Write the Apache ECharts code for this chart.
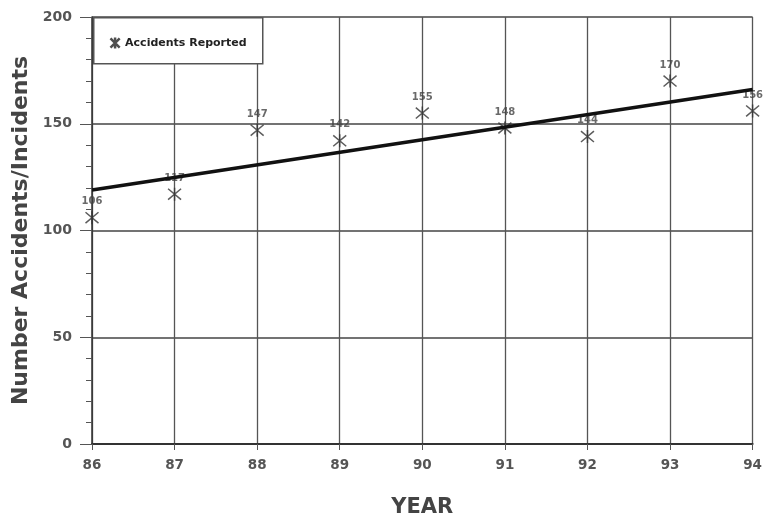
<!DOCTYPE html>
<html><head><meta charset="utf-8">
<script src="https://cdn.jsdelivr.net/npm/echarts@6/dist/echarts.min.js"></script>
<style>html,body{margin:0;padding:0;background:#fff}#c{width:765px;height:523px}</style>
</head><body><div id="c"></div>
<script>
const years = [86, 87, 88, 89, 90, 91, 92, 93, 94];
const accidents = [106, 117, 147, 142, 155, 148, 144, 170, 156];
const trendYears = [86, 94];
const trendValues = [119, 166];
const seriesName = 'Accidents Reported';
const xTitle = 'YEAR';
const yTitle = 'Number Accidents/Incidents';

const starPath = 'path://M0,0L10,10M10,0L0,10M5,-1L5,11';
const chart = echarts.init(document.getElementById('c'));
const font = 'DejaVu Sans, Verdana, sans-serif';
chart.setOption({
  animation: false,
  backgroundColor: '#fff',
  grid: { left: 92, right: 12, top: 17, bottom: 78, show: false },
  xAxis: {
    type: 'value', min: 86, max: 94, interval: 1,
    name: xTitle, nameLocation: 'middle', nameGap: 53,
    nameTextStyle: { fontFamily: font, fontWeight: 'bold', fontSize: 21, color: '#444' },
    axisLine: { show: true, onZero: false, lineStyle: { color: '#333', width: 2 } },
    axisTick: { show: true, length: 6, lineStyle: { color: '#555' } },
    axisLabel: { fontFamily: font, fontWeight: 'bold', fontSize: 13.5, color: '#555', margin: 14 },
    splitLine: { show: true, lineStyle: { color: '#555', width: 1.3 } }
  },
  yAxis: {
    type: 'value', min: 0, max: 200, interval: 50,
    name: yTitle, nameLocation: 'middle', nameGap: 57,
    nameTextStyle: { fontFamily: font, fontWeight: 'bold', fontSize: 22, color: '#444' },
    axisLine: { show: true, lineStyle: { color: '#333', width: 1.5 } },
    axisTick: { show: true, length: 12, lineStyle: { color: '#555' } },
    minorTick: { show: true, splitNumber: 5, length: 6, lineStyle: { color: '#555' } },
    axisLabel: { fontFamily: font, fontWeight: 'bold', fontSize: 14, color: '#555', margin: 20 },
    splitLine: { show: true, lineStyle: { color: '#444', width: 1.5 } }
  },
  graphic: [{
    type: 'rect', left: 93, top: 17, z: 5,
    shape: { width: 169, height: 46 },
    style: { fill: '#fff', stroke: '#555', lineWidth: 1.5 }
  }],
  legend: {
    left: 103, top: 30, z: 10, itemGap: 0, itemWidth: 14, itemHeight: 11,
    data: [{ name: seriesName, icon: starPath }],
    textStyle: { fontFamily: font, fontWeight: 'bold', fontSize: 11, color: '#222', padding: [0, 0, 0, -2] },
    itemStyle: { color: 'none', borderColor: '#222', borderWidth: 2.5 }
  },
  series: [
    {
      name: seriesName, type: 'scatter', z: 3,
      symbol: starPath, symbolSize: 13,
      itemStyle: { color: 'none', borderColor: '#333', borderWidth: 1.5 },
      label: { show: true, position: 'top', distance: 2, fontFamily: font, fontWeight: 'bold', fontSize: 10, color: '#444' },
      data: years.map((y, i) => [y, accidents[i]])
    },
    {
      name: 'trend', type: 'line', z: 4, symbol: 'none',
      lineStyle: { color: '#111', width: 3.5 },
      data: trendYears.map((y, i) => [y, trendValues[i]])
    }
  ]
});
</script></body></html>
